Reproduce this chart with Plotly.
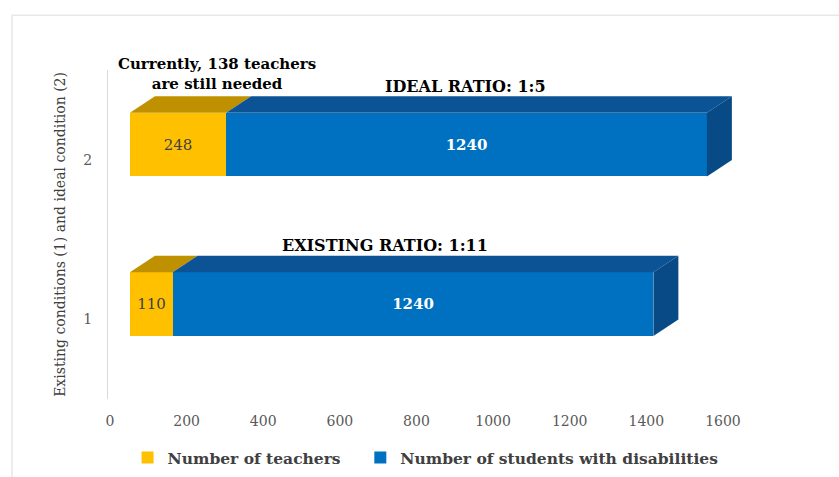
import plotly.graph_objects as go

# ---------------- data ----------------
categories = [1, 2]
teachers = [110, 248]
students = [1240, 1240]
x_ticks = [0, 200, 400, 600, 800, 1000, 1200, 1400, 1600]
series_names = ["Number of teachers", "Number of students with disabilities"]
ratio_labels = ["EXISTING RATIO: 1:11", "IDEAL RATIO: 1:5"]
note_text = "Currently, 138 teachers<br>are still needed"

# ---------------- style ----------------
W, H = 839, 477
ML, MR, MT, MB = 108, 79, 70, 77
PLOT_W = W - ML - MR
PLOT_H = H - MT - MB
FONT = "DejaVu Serif"
YELLOW, YELLOW_TOP = "#FFC000", "#BF9000"
BLUE, BLUE_TOP, BLUE_SIDE = "#0070C0", "#0B5394", "#074A85"

X_RANGE = [-56.6, 1625]        # bar axis
X2_RANGE = [-5.2, 1696.7]      # tick-label axis
Y_RANGE = [0.5, 2.5625]
px_x = PLOT_W / (X_RANGE[1] - X_RANGE[0])
px_y = PLOT_H / (Y_RANGE[1] - Y_RANGE[0])
DEPTH_X = 25 / px_x
DEPTH_Y = 16.5 / px_y
BAR_W = 0.4
BAR_SHIFT = 0.095
BAR_OFFSET = -BAR_W / 2 + BAR_SHIFT

fig = go.Figure()

# 3D top and side faces
for c, t, s in zip(categories, teachers, students):
    y_bot = c + BAR_OFFSET
    y_top = y_bot + BAR_W
    segs = [(0, t, YELLOW_TOP), (t, t + s, BLUE_TOP)]
    for x0, x1, col in segs:
        fig.add_trace(go.Scatter(
            x=[x0, x1, x1 + DEPTH_X, x0 + DEPTH_X, x0],
            y=[y_top, y_top, y_top + DEPTH_Y, y_top + DEPTH_Y, y_top],
            fill="toself", fillcolor=col, mode="lines", line=dict(width=0, color=col),
            showlegend=False, hoverinfo="skip"))
    xe = t + s
    fig.add_trace(go.Scatter(
        x=[xe, xe + DEPTH_X, xe + DEPTH_X, xe, xe],
        y=[y_top, y_top + DEPTH_Y, y_bot + DEPTH_Y, y_bot, y_top],
        fill="toself", fillcolor=BLUE_SIDE, mode="lines", line=dict(width=0, color=BLUE_SIDE),
        showlegend=False, hoverinfo="skip"))

fig.add_trace(go.Bar(
    y=categories, x=teachers, orientation="h", name=series_names[0], legend="legend",
    marker=dict(color=YELLOW, line=dict(width=0)), width=BAR_W, offset=BAR_OFFSET,
    text=teachers, textposition="inside", insidetextanchor="middle", constraintext="none",
    textfont=dict(family=FONT, size=15, color="#404040"), textangle=0, hoverinfo="skip"))
fig.add_trace(go.Bar(
    y=categories, x=students, orientation="h", name=series_names[1], legend="legend2",
    marker=dict(color=BLUE, line=dict(width=0)), width=BAR_W, offset=BAR_OFFSET,
    text=students, textposition="inside", insidetextanchor="middle", constraintext="none",
    textfont=dict(family=FONT, size=15, color="white", weight="bold"),
    textangle=0, hoverinfo="skip"))

# dummy trace for the tick axis
fig.add_trace(go.Scatter(x=[x_ticks[0], x_ticks[-1]], y=[None, None], xaxis="x2",
                         mode="markers", showlegend=False, hoverinfo="skip"))

ann_font = dict(family=FONT, size=15, color="#000000", weight="bold")
ratio_font = dict(family=FONT, size=16, color="#000000", weight="bold")
annotations = [
    dict(x=225, y=2.54, xref="x", yref="y", text=note_text, showarrow=False,
         font=ann_font, align="center"),
    dict(x=866, y=2.46, xref="x", yref="y", text=ratio_labels[1], showarrow=False, font=ratio_font),
    dict(x=658, y=1.465, xref="x", yref="y", text=ratio_labels[0], showarrow=False, font=ratio_font),
]

legend_font = dict(family=FONT, size=15.5, color="#404040", weight="bold")
legend_common = dict(orientation="h", xanchor="left", yref="container", y=0.04,
                     yanchor="middle", font=legend_font, itemwidth=30,
                     bgcolor="rgba(0,0,0,0)")

fig.update_layout(
    width=W, height=H, margin=dict(l=ML, r=MR, t=MT, b=MB),
    paper_bgcolor="white", plot_bgcolor="white",
    barmode="stack", bargap=0,
    font=dict(family=FONT, size=14, color="#595959"),
    xaxis=dict(range=X_RANGE, visible=False, fixedrange=True),
    xaxis2=dict(range=X2_RANGE, overlaying="x", side="bottom", anchor="y",
                tickvals=x_ticks, showgrid=False, zeroline=False, showline=False,
                ticks="", tickfont=dict(family=FONT, size=14, color="#595959"),
                ticklabelstandoff=12),
    yaxis=dict(range=Y_RANGE, tickvals=categories, ticktext=[str(c) for c in categories],
               showgrid=False, zeroline=False, showline=True, linecolor="#D9D9D9", linewidth=1,
               ticks="", ticklabelstandoff=12,
               tickfont=dict(family=FONT, size=14, color="#595959"),
               title=dict(text="Existing conditions (1) and ideal condition (2)",
                          font=dict(family=FONT, size=14, color="#404040"), standoff=14)),
    legend=dict(x=0.03, **legend_common),
    legend2=dict(x=0.387, **legend_common),
    annotations=annotations,
    shapes=[dict(type="rect", xref="paper", yref="paper", x0=(12 - ML) / PLOT_W, x1=1.2,
                 y0=-0.3, y1=(H - MB - 15) / PLOT_H, line=dict(color="#E8E8E8", width=1.5),
                 fillcolor="rgba(0,0,0,0)", layer="below")],
    showlegend=True,
)

fig.write_html("out.html", config={"displayModeBar": False},
               post_script="document.body.style.margin='0';")
